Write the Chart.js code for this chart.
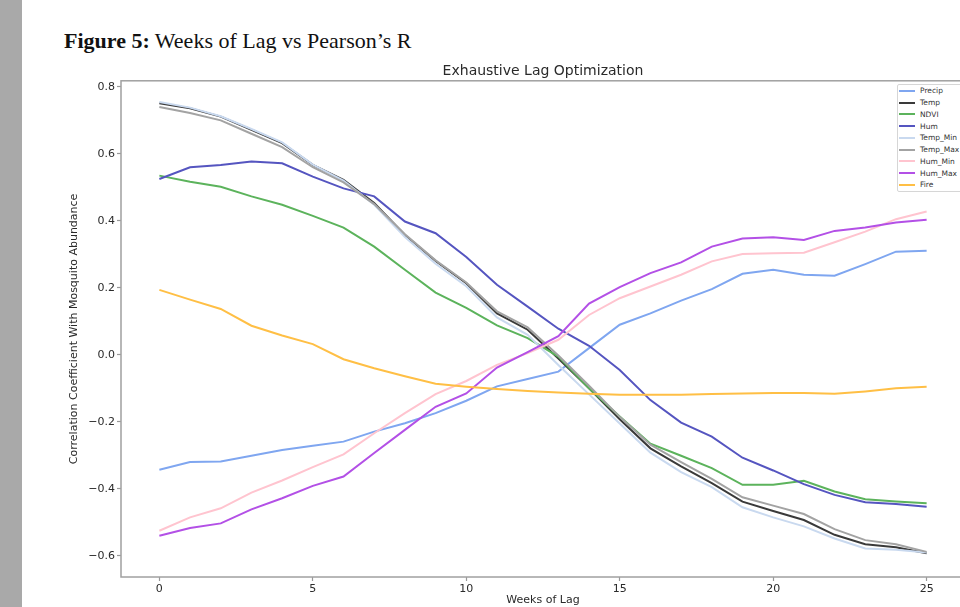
<!DOCTYPE html>
<html>
<head>
<meta charset="utf-8">
<script src="https://cdn.jsdelivr.net/npm/chart.js@4.4.1/dist/chart.umd.min.js"></script>
<style>
  html, body { margin: 0; padding: 0; background: #fff; overflow: hidden; width: 960px; height: 607px; }
  #band { position: absolute; left: 0; top: 0; width: 22px; height: 607px; background: #a9a9a9; }
  #fig-title { position: absolute; left: 64px; top: 30px; line-height: 22px; font-family: "Liberation Serif", "Times New Roman", serif; font-size: 22px; color: #111; white-space: nowrap; }
  #chart { position: absolute; left: 0; top: 0; }
  #legend { position: absolute; left: 897px; top: 84px; width: 90px; border: 1px solid #d6d6d6; border-radius: 2px; background: #fff; font-family: "DejaVu Sans", sans-serif; font-size: 7.5px; color: #333; }
  #legend .row { display: flex; align-items: center; height: 11.75px; }
  #legend .swatch { width: 16px; height: 2px; margin-left: 1px; }
  #legend .lbl { margin-left: 5px; white-space: nowrap; }
</style>
</head>
<body>
<div id="band"></div>
<div id="fig-title"><b>Figure 5:</b> Weeks of Lag vs Pearson’s R</div>
<canvas id="chart" width="1000" height="607"></canvas>
<div id="legend"></div>
<script>
const weeks = [0, 1, 2, 3, 4, 5, 6, 7, 8, 9, 10, 11, 12, 13, 14, 15, 16, 17, 18, 19, 20, 21, 22, 23, 24, 25];

const precip  = [-0.343, -0.320, -0.318, -0.301, -0.284, -0.271, -0.259, -0.229, -0.204, -0.174, -0.137, -0.094, -0.072, -0.050, 0.020, 0.090, 0.124, 0.162, 0.196, 0.242, 0.254, 0.239, 0.236, 0.271, 0.308, 0.311];
const temp    = [0.751, 0.736, 0.711, 0.672, 0.632, 0.567, 0.522, 0.453, 0.358, 0.280, 0.214, 0.124, 0.075, -0.011, -0.100, -0.192, -0.279, -0.333, -0.383, -0.438, -0.466, -0.493, -0.537, -0.565, -0.574, -0.592];
const ndvi    = [0.535, 0.517, 0.502, 0.473, 0.448, 0.415, 0.380, 0.323, 0.254, 0.186, 0.140, 0.088, 0.050, -0.005, -0.100, -0.184, -0.265, -0.301, -0.338, -0.388, -0.388, -0.376, -0.408, -0.431, -0.438, -0.443];
const hum     = [0.525, 0.560, 0.567, 0.577, 0.572, 0.532, 0.497, 0.473, 0.398, 0.363, 0.292, 0.209, 0.144, 0.078, 0.027, -0.045, -0.135, -0.202, -0.244, -0.307, -0.345, -0.386, -0.418, -0.440, -0.445, -0.453];
const tempMin = [0.755, 0.738, 0.712, 0.674, 0.634, 0.568, 0.520, 0.448, 0.352, 0.272, 0.205, 0.112, 0.060, -0.030, -0.118, -0.205, -0.292, -0.350, -0.395, -0.455, -0.485, -0.512, -0.548, -0.578, -0.582, -0.590];
const tempMax = [0.740, 0.722, 0.700, 0.660, 0.620, 0.560, 0.515, 0.450, 0.360, 0.282, 0.216, 0.130, 0.082, -0.002, -0.092, -0.185, -0.268, -0.320, -0.370, -0.425, -0.450, -0.475, -0.520, -0.553, -0.565, -0.588];
const humMin  = [-0.525, -0.485, -0.458, -0.411, -0.375, -0.335, -0.297, -0.234, -0.174, -0.117, -0.078, -0.030, 0.005, 0.045, 0.119, 0.169, 0.204, 0.239, 0.279, 0.301, 0.303, 0.305, 0.336, 0.368, 0.405, 0.428];
const humMax  = [-0.540, -0.517, -0.503, -0.461, -0.428, -0.391, -0.363, -0.293, -0.224, -0.155, -0.115, -0.038, 0.008, 0.056, 0.153, 0.202, 0.244, 0.276, 0.323, 0.347, 0.351, 0.343, 0.370, 0.380, 0.395, 0.403];
const fire    = [0.194, 0.165, 0.137, 0.087, 0.058, 0.032, -0.013, -0.040, -0.064, -0.086, -0.095, -0.102, -0.108, -0.112, -0.116, -0.119, -0.119, -0.119, -0.117, -0.115, -0.114, -0.114, -0.116, -0.109, -0.100, -0.095];

const seriesNames = ['Precip', 'Temp', 'NDVI', 'Hum', 'Temp_Min', 'Temp_Max', 'Hum_Min', 'Hum_Max', 'Fire'];
const seriesValues = [precip, temp, ndvi, hum, tempMin, tempMax, humMin, humMax, fire];

const xTicks = [0, 5, 10, 15, 20, 25];
const yTicks = [-0.6, -0.4, -0.2, 0.0, 0.2, 0.4, 0.6, 0.8];

// line colours, same order as seriesNames
const colors = ['#7fa6f0', '#3a3a3a', '#5cb35c', '#5555c0', '#c9d9ef', '#a3a3a3', '#ffc4cf', '#b350e6', '#ffbf45'];

const datasets = seriesNames.map((name, i) => ({
    label: name,
    data: weeks.map((w, j) => ({ x: w, y: seriesValues[i][j] })),
    borderColor: colors[i],
    borderWidth: 2,
    pointRadius: 0,
    tension: 0,
    fill: false,
    order: seriesNames.length - 1 - i
}));

// grey box around the plot area
const frame = {
    id: 'frame',
    afterDraw(chart) {
        const { ctx, chartArea: a } = chart;
        ctx.save();
        ctx.strokeStyle = '#a0a0a0';
        ctx.lineWidth = 1.5;
        ctx.strokeRect(a.left, a.top, a.right - a.left, a.bottom - a.top);
        ctx.restore();
    }
};

Chart.defaults.font.family = '"DejaVu Sans", sans-serif';
Chart.defaults.color = '#2a2a2a';

new Chart(document.getElementById('chart'), {
    type: 'line',
    data: { datasets: datasets },
    options: {
        responsive: false,
        animation: false,
        layout: { padding: { left: 0, right: 35, top: 0, bottom: 0 } },
        plugins: {
            legend: { display: false },
            tooltip: { enabled: false },
            title: {
                display: true,
                text: 'Exhaustive Lag Optimization',
                fullSize: false,
                color: '#2a2a2a',
                font: { size: 14, weight: 'normal' },
                padding: { top: 63, bottom: 1 }
            }
        },
        scales: {
            x: {
                type: 'linear',
                min: -1.25,
                max: 26.25,
                afterBuildTicks: s => { s.ticks = xTicks.map(v => ({ value: v })); },
                afterFit: s => { s.height = 30; },
                ticks: { font: { size: 11 }, padding: 2, color: '#2a2a2a', callback: v => String(v) },
                grid: { drawOnChartArea: false, drawTicks: true, tickLength: 4, color: '#999', tickWidth: 1.2 },
                border: { display: false },
                title: { display: true, text: 'Weeks of Lag', font: { size: 11 }, color: '#2a2a2a', padding: { top: 0, bottom: 0 } }
            },
            y: {
                min: -0.663,
                max: 0.818,
                afterBuildTicks: s => { s.ticks = yTicks.map(v => ({ value: v })); },
                afterFit: s => { s.width = 121; },
                ticks: {
                    font: { size: 11 }, padding: 2, color: '#2a2a2a',
                    callback: v => (v < -1e-9 ? '\u2212' : '') + Math.abs(v).toFixed(1)
                },
                grid: { drawOnChartArea: false, drawTicks: true, tickLength: 4, color: '#999', tickWidth: 1.2 },
                border: { display: false },
                title: { display: true, text: 'Correlation Coefficient With Mosquito Abundance', font: { size: 11 }, color: '#2a2a2a', padding: { top: 68, bottom: 0 } }
            }
        }
    },
    plugins: [frame]
});

// legend built from the same series
const legend = document.getElementById('legend');
seriesNames.forEach((name, i) => {
    const row = document.createElement('div');
    row.className = 'row';
    row.innerHTML = `<span class="swatch" style="background:${colors[i]}"></span><span class="lbl">${name}</span>`;
    legend.appendChild(row);
});
</script>
</body>
</html>
